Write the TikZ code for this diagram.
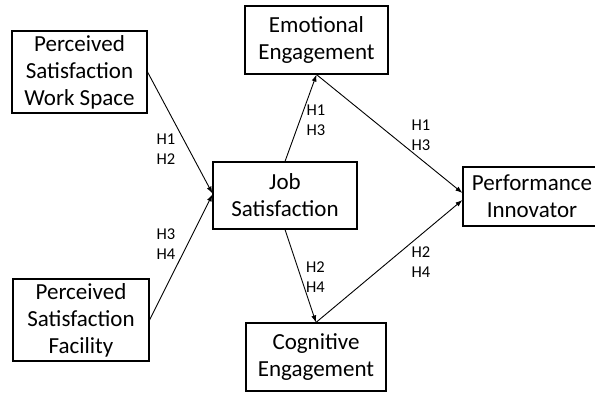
\documentclass[tikz,border=0pt]{standalone}
\usepackage{fontspec}
\setmainfont{Carlito}
\usepackage{tikz}
\usetikzlibrary{arrows.meta}

\begin{document}
\begin{tikzpicture}[x=1pt,y=-1pt,
		construct/.style={draw,line width=1.1pt,align=center,inner sep=0pt,font=\fontsize{23}{27}\selectfont},
		hyp/.style={align=left,inner sep=0pt,font=\fontsize{16.5}{20}\selectfont},
		link/.style={-{Latex[length=7pt,width=5pt]},line width=0.9pt}]
		\useasboundingbox (0,0) rectangle (595,392);
		% constructs
		\node[construct,minimum width=135pt,minimum height=82pt] (psws) at (79.5,72) {Perceived\\Satisfaction\\Work Space};
		\node[construct,minimum width=136pt,minimum height=82pt] (psf) at (81,320) {Perceived\\Satisfaction\\Facility};
		\node[construct,minimum width=144pt,minimum height=67pt] (js) at (285,195.5) {Job\\Satisfaction};
		\node[construct,minimum width=143pt,minimum height=68pt] (ee) at (316.5,40) {Emotional\\Engagement};
		\node[construct,minimum width=140pt,minimum height=68pt] (ce) at (316,357) {Cognitive\\Engagement};
		\node[construct,minimum width=138pt,minimum height=59pt] (pi) at (532,196.5) {Performance\\Innovator};
		% paths
		\draw[link] (psws.east) -- ([yshift=2pt]js.west);
		\draw[link] (psf.east) -- ([yshift=1pt]js.west);
		\draw[link] (js.north) -- (ee.south);
		\draw[link] (ee.south) -- ([yshift=3.5pt]pi.west);
		\draw[link] (js.south) -- (ce.north);
		\draw[link] (ce.north) -- ([yshift=-3.5pt]pi.west);
		% hypotheses
		\node[hyp] (h12) at (166,149.5) {H1\\H2};
		\node[hyp] (h34) at (166,244) {H3\\H4};
		\node[hyp] (h13a) at (316,120) {H1\\H3};
		\node[hyp] (h13b) at (421,135) {H1\\H3};
		\node[hyp] (h24a) at (315.5,277) {H2\\H4};
		\node[hyp] (h24b) at (421,262) {H2\\H4};
	\end{tikzpicture}
\end{document}
